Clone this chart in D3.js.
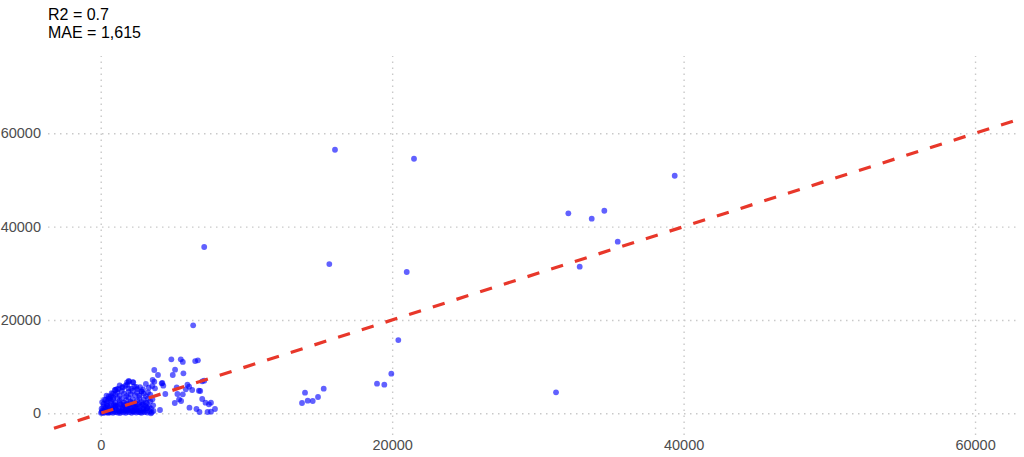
<!DOCTYPE html>
<html>
<head>
<meta charset="utf-8">
<script src="https://cdn.jsdelivr.net/npm/d3@7"></script>
<style>
  html, body { margin: 0; padding: 0; background: #ffffff; }
  svg { display: block; font-family: "Liberation Sans", Arial, sans-serif; }
</style>
</head>
<body>
<svg id="chart" width="1024" height="457"></svg>
<script>
// ---- data ----
const titleLines = ["R2 = 0.7", "MAE = 1,615"];
const xTicks = [0, 20000, 40000, 60000];
const yTicks = [0, 20000, 40000, 60000];

// actual (x) values
const actual = [
  // dense cluster near origin
  20,80,150,220,300,380,450,520,600,680,760,840,920,1000,1080,1160,1240,1320,1400,1480,1560,1640,1720,1800,1880,1960,2040,2120,2200,2280,2360,2440,2520,2600,2700,2800,2900,3000,3100,3200,3350,3500,3620,
  60,180,300,420,540,660,780,900,1020,1140,1260,1380,1500,1620,1740,1860,1980,2100,2220,2340,2460,2580,2700,2820,2940,3060,3180,3310,3450,3600,
  100,250,400,550,700,850,1000,1150,1300,1450,1600,1750,1900,2050,2200,2350,2500,2650,2800,2950,3100,3250,3400,3550,
  400,550,700,850,1000,1150,1300,1450,1600,1750,1900,2050,2200,2350,2500,2650,2800,2950,3100,3250,3400,
  750,1000,1100,1300,1500,1700,1814,1952,2207,2100,2300,2500,2700,2900,3100,3300,
  1921,1805,2237,2443,1482,1894,2814,981,1208,638,865,343,480,3678,4186,4296,
  110,330,560,790,1030,1270,1510,1750,1990,2230,2470,2710,2950,3190,
  200,470,740,1010,1280,1550,1820,2090,2360,2630,2900,3170,
  // mid group
  3676,3931,3563,3538,3724,4228,4434,4069,3448,
  4848,5497,5634,6483,6669,5103,4945,5676,
  5952,5214,6276,6828,6966,7103,6738,6069,5841,
  5262,5634,5379,6966,7193,7428,5083,5517,7566,
  6090,6572,6779,7331,7566,7841,
  6345,7103,
  // scattered
  16077,21500,39390,32090,33695,34560,35480,32870,31245,15688,21000,
  20423,19943,18961,19462,15303,14912,14020,13814,14205,14549
];

// predicted (y) values
const predicted = [
  100,300,50,400,150,600,250,80,500,200,700,100,450,250,650,150,500,50,350,700,200,550,100,400,750,250,600,120,450,300,700,150,500,300,650,100,450,250,600,150,400,200,500,
  1000,1400,900,1700,1100,1500,900,1800,1200,1600,1000,1900,1300,1700,1000,1500,1900,1100,1600,1300,1900,1000,1500,1800,1100,1600,1200,1420,1000,1700,
  2400,2900,2200,3200,2600,3000,2300,3300,2700,3100,2300,2800,3400,2500,3000,2200,2800,3300,2400,2900,2300,3200,2600,3000,
  3800,3600,3700,4200,4000,4500,3800,4800,4200,3700,4600,4100,4800,3900,4400,3800,4700,4200,3700,4500,4000,
  4300,5000,5200,6000,5500,5900,6140,6770,6700,5300,5700,5200,5600,5100,6300,5500,
  6920,6640,6640,5640,5640,5360,4630,4990,5210,3210,3340,2850,2640,6770,6430,5910,
  600,1200,300,900,1500,400,1100,700,1300,500,1000,200,800,1100,
  2000,1600,2100,1700,2200,1800,2000,2300,1600,2100,1900,2200,
  9280,8210,7140,5850,5360,6490,4140,710,0,
  11570,11570,11000,11200,11360,9340,8210,8570,
  6130,5570,4990,4780,6860,6990,4840,5700,5140,
  4140,4070,3000,3060,2270,1930,2210,2640,2270,
  1200,920,280,280,340,920,
  18860,35640,
  56480,54550,50910,42850,41700,43410,36770,31420,4500,31990,30280,
  15700,8490,6350,6130,5270,3490,4410,2210,2700,2640
];

// ---- layout ----
const svg = d3.select("#chart");
const panel = { left: 48, right: 1020, top: 56, bottom: 435 };

const x = d3.scaleLinear().domain([-3617, 63085]).range([panel.left, panel.right]);
const y = d3.scaleLinear().domain([-4650, 76570]).range([panel.bottom, panel.top]);

// title
svg.append("g").selectAll("text").data(titleLines).join("text")
  .attr("x", panel.left)
  .attr("y", (d, i) => 20 + i * 18)
  .attr("font-size", 16)
  .attr("fill", "#000")
  .text(d => d);

// axes + grid
const gridColor = "#c9c9c9";
const yAxis = d3.axisLeft(y).tickValues(yTicks).tickFormat(d3.format("d"))
  .tickSizeInner(-(panel.right - panel.left)).tickSizeOuter(0).tickPadding(7);
const gy = svg.append("g").attr("transform", `translate(${panel.left},0)`).call(yAxis);
gy.select(".domain").remove();
gy.selectAll(".tick line").attr("stroke", gridColor).attr("stroke-width", 1.4).attr("stroke-dasharray", "1.5 4.5");
gy.selectAll(".tick text").attr("fill", "#4d4d4d").attr("font-size", 14.5).attr("font-family", "Liberation Sans, Arial, sans-serif");

const xAxis = d3.axisBottom(x).tickValues(xTicks).tickFormat(d3.format("d"))
  .tickSizeInner(-(panel.bottom - panel.top)).tickSizeOuter(0).tickPadding(5);
const gx = svg.append("g").attr("transform", `translate(0,${panel.bottom})`).call(xAxis);
gx.select(".domain").remove();
gx.selectAll(".tick line").attr("stroke", gridColor).attr("stroke-width", 1.4).attr("stroke-dasharray", "1.5 4.5");
gx.selectAll(".tick text").attr("fill", "#4d4d4d").attr("font-size", 14.5).attr("font-family", "Liberation Sans, Arial, sans-serif");

// points
const pts = actual.map((a, i) => ({ a, p: predicted[i] }));
svg.append("g").selectAll("circle").data(pts).join("circle")
  .attr("cx", d => x(d.a))
  .attr("cy", d => y(d.p))
  .attr("r", 2.9)
  .attr("fill", "#0000ff")
  .attr("fill-opacity", 0.62);

// identity line
const lo = x.domain()[0], hi = x.domain()[1];
svg.append("line")
  .attr("x1", x(lo)).attr("y1", y(lo))
  .attr("x2", x(hi)).attr("y2", y(hi))
  .attr("stroke", "#e8372a")
  .attr("stroke-width", 3.2)
  .attr("stroke-dasharray", "12.43 12.43")
  .attr("stroke-dashoffset", 18.57);
</script>
</body>
</html>
